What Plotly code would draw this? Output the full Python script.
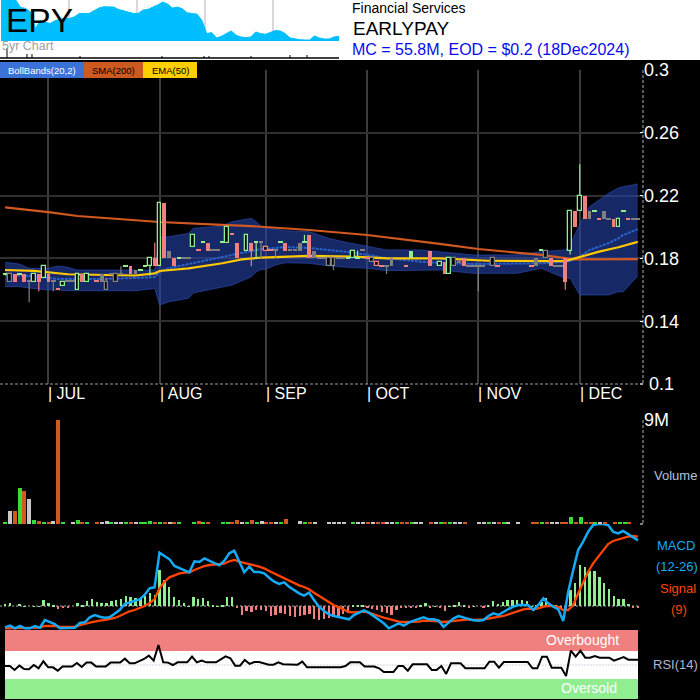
import plotly.graph_objects as go

# ---------- data ----------
months = ["JUL", "AUG", "SEP", "OCT", "NOV", "DEC"]
month_start_day = [9, 32, 54, 75, 98, 119]
price_ticks = [0.14, 0.18, 0.22, 0.26, 0.3]
price_tick_text = ["0.14", "0.18", "0.22", "0.26", "0.3"]

# style: G hollow green, P pink, K hollow grey, S solid grey, N solid green, R hollow pink,
# g/p/s = doji dash, '.' = no candle
candle_style = list(
    "gKPgPsGPGP" "spGssGPG.p" "SKsKsgPSgg" "GPGPSPgssG"
    "pgPssgGpP." "GPgsRpsgPs" "sSgPSssKKs" "sgGgspKRps"
    "S..pN...P." "GPGKsPssss" ".Kp......p" "SgKPssPGPG"
    "PSgpSsPGgp" "ss"
)
candle_top = [
    .17, .17, .17, .17, .17, .165, .17, .17, .175, .17,
    .165, .16, .165, .165, .165, .17, .17, .17, None, .165,
    .17, .165, .17, .17, .17, .175, .175, .1725, .1725, .175,
    .18, .18, .215, .215, .185, .18, .18, .18, .18, .195,
    .185, .19, .19, .185, .185, .19, .2, .195, .19, None,
    .195, .19, .19, .19, .1875, .185, .185, .19, .19, .185,
    .185, .19, .19, .195, .185, .18, .18, .18, .18, .18,
    .18, .18, .185, .18, .185, .18, .18, .1775, .175, .175,
    .18, None, None, .175, .185, None, None, None, .185, None,
    .1775, .1775, .18, .18, .1775, .18, .175, .175, .175, .175,
    None, .18, .175, None, None, None, None, None, None, .175,
    .18, .185, .185, .18, .175, .175, .18, .21, .21, .22,
    .22, .21, .21, .205, .21, .205, .205, .205, .21, .205,
    .205, .205,
]
candle_bot = [
    .17, .165, .165, .17, .165, .165, .165, .165, .1675, .165,
    .165, .16, .1625, .165, .165, .16, .165, .165, None, .165,
    .165, .16, .17, .165, .17, .175, .17, .17, .1725, .175,
    .175, .175, .175, .18, .18, .175, .18, .18, .18, .1875,
    .185, .19, .185, .185, .185, .19, .19, .195, .18, None,
    .185, .185, .19, .19, .185, .185, .185, .19, .185, .185,
    .185, .185, .19, .18, .18, .18, .18, .175, .175, .18,
    .18, .18, .18, .18, .185, .18, .1775, .175, .175, .175,
    .175, None, None, .175, .18, None, None, None, .175, None,
    .175, .17, .17, .175, .1775, .175, .175, .175, .175, .175,
    None, .175, .175, None, None, None, None, None, None, .175,
    .175, .185, .18, .175, .175, .175, .165, .185, .2, .21,
    .205, .205, .21, .205, .205, .205, .2, .2, .21, .205,
    .205, .205,
]
wick_day = [5, 7, 10, 21, 24, 30, 31, 51, 52, 53, 56, 62, 68, 73, 79, 98, 116, 117, 119]
wick_high = [.165, .17, .165, .1675, .175, .18, .19, .19, .19, .19, .185, .195, .175, .185, .175, .175, .165, .185, .24]
wick_low = [.152, .159, .159, .165, .17, .169, .18, .175, .18, .18, .18, .19, .1725, .18, .17, .159, .16, .1825, .22]

band_day = [0, 3, 5, 9, 11, 13, 15, 20, 27, 31, 32, 34, 38, 39, 45, 47, 51, 52, 53, 54, 56, 58, 63,
            67, 71, 75, 79, 86, 90, 97, 106, 111, 116, 117, 119, 121, 123, 125, 127, 128, 131]
band_upper = [.1775, .1764, .1737, .1737, .1752, .1743, .1726, .1726, .1726, .1726, .1936, .1938, .1960, .1992,
              .2006, .2034, .2055, .2034, .2006, .1992, .1987, .1976, .1970, .1928, .1900, .1879, .1854, .1854,
              .1843, .1822, .1822, .1843, .1854, .1885, .2019, .2129, .2172, .2215, .2248, .2257, .2274]
band_lower = [.1620, .1620, .1611, .1599, .1599, .1594, .1594, .1594, .1594, .1609, .1503, .1524, .1546, .1580,
              .1620, .1630, .1683, .1713, .1730, .1730, .1758, .1772, .1769, .1752, .1743, .1737, .1722, .1726,
              .1726, .1705, .1705, .1737, .1673, .1673, .1567, .1567, .1567, .1567, .1588, .1588, .1688]
band_mid = [.1694, .1688, .1688, .1675, .1669, .1669, .1669, .1669, .1675, .1681, .1713, .1739, .1764, .1771,
            .1809, .1822, .1847, .1854, .1860, .1860, .1866, .1873, .1866, .1854, .1841, .1822, .1802, .1779,
            .1771, .1764, .1769, .1769, .1779, .1783, .1809, .1854, .1875, .1898, .1928, .1949, .1986]

sma_day = [0, 9, 15, 32, 45, 51, 63, 75, 90, 98, 111, 118, 131]
sma_200 = [.2125, .2095, .2070, .2032, .2013, .2006, .1981, .1949, .1892, .1860, .1822, .1794, .1796]
ema_day = [0, 6, 13, 20, 27, 31, 32, 38, 45, 49, 53, 63, 72, 79, 90, 100, 111, 116, 118, 123, 127, 131]
ema_50 = [.1726, .172, .1699, .1695, .1691, .1705, .172, .1737, .1769, .1794, .1805, .1816, .1811, .18,
          .18, .1785, .1785, .1783, .18, .1843, .1871, .1905]

volume_m = [
    .09, 1.125, 1.125, 3.1, 2.86, 2.16, .35, .26, .09, .09,
    .26, 9.05, .09, 0, .09, .35, .17, .09, 0, .09,
    .09, .26, .09, .09, .09, .09, .09, .09, .09, .09,
    .26, .17, .09, .17, .09, .09, .09, 0, 0, .09,
    .26, .09, .09, 0, 0, .09, .09, .09, .35, .09,
    .09, .35, .09, .26, .09, .09, .09, .09, .43, 0,
    0, .26, .09, .09, .09, 0, 0, .09, .09, .09,
    .09, 0, .09, .17, .09, .09, .09, .09, .17, .09,
    .09, .17, .09, .09, .09, .09, .09, 0, .17, .09,
    .09, .09, .09, .09, .09, .09, 0, 0, .17, .09,
    .09, .17, .09, .09, .09, 0, .09, 0, 0, .09,
    .09, .09, .09, .09, .09, .09, .09, .58, .09, .58,
    .09, .09, .09, .09, .09, 0, .09, .09, .09, .09,
]
volume_dir = list(
    "gkogokgogo" "kogxkgogxo" "kkgkkgokgg" "gogokogxxg"
    "ogoxxggook" "gogkookgox" "xkgokxxkkk" "kxgkkokook"
    "kgoogkkxok" "gogkkoxxkk" "gkogkxkxxo" "ogokkoogog"
    "oogkoxoggo"
)

macd_line = [
    -63, -58, -66, -59, -66, -66, -59, -64, -41, -47, -53, -66, -66, -66, -64, -50, -48, -33, -26, -31,
    -34, -33, -21, -11, 7, 12, 16, 21, 34, 54, 57, 161, 151, 141, 121, 114, 109, 102, 135, 133,
    144, 137, 129, 123, 137, 159, 167, 134, 102, 119, 103, 103, 99, 86, 74, 67, 72, 59, 49, 39,
    32, 41, 19, -1, -14, -24, -29, -33, -37, -39, -26, -18, -12, -19, -29, -41, -51, -66, -59, -51,
    -58, -49, -43, -39, -33, -39, -39, -43, -62, -49, -36, -29, -33, -39, -42, -43, -41, -29, -21, -26,
    -16, -8, -1, 4, 4, 3, -11, 4, 24, 9, -1, -9, -44, 44, 109, 169, 194, 224, 244, 247,
    247, 244, 224, 219, 226, 217, 207, 198,
]
signal_line = [
    -66, -66, -66, -66, -65, -65, -64, -64, -59, -58, -59, -61, -62, -62, -61, -58, -53, -49, -45, -43,
    -41, -39, -35, -29, -21, -15, -11, -6, 1, 9, 22, 54, 74, 87, 94, 99, 101, 102, 109, 115,
    121, 124, 125, 126, 128, 135, 139, 134, 131, 127, 123, 119, 114, 106, 99, 92, 85, 77, 69, 63,
    58, 51, 41, 31, 21, 11, 3, -3, -11, -17, -18, -16, -16, -19, -23, -29, -34, -38, -43, -46,
    -47, -47, -47, -46, -43, -43, -43, -45, -47, -45, -43, -41, -39, -39, -41, -41, -39, -37, -35, -33,
    -29, -24, -19, -14, -9, -7, -9, -6, -1, 1, 1, -3, -11, -11, 4, 39, 74, 104, 129, 149,
    169, 187, 196, 201, 205, 209, 211, 209,
]
macd_hist = [
    7, 10, 0, 6, 1, 0, 1, 1, 19, 11, 4, -9, -5, -3, 0, 9, 5, 17, 22, 12,
    9, 11, 16, 20, 22, 31, 29, 24, 24, 32, 40, 34, 109, 79, 58, 29, 19, 9, 1, 28,
    23, 24, 16, 5, 1, 3, 28, 28, -3, -26, -14, -16, -11, -11, -15, -28, -25, -21, -23, -29,
    -31, -29, -26, -23, -39, -41, -39, -36, -33, -29, -23, -21, 4, 5, 3, -3, -8, -11, -18, -21,
    -26, -11, -5, -5, -4, -3, 4, 9, -3, 1, -3, -14, 1, 4, 12, 5, -3, 1, 0, -3,
    4, 16, 7, 13, 19, 19, 19, 19, 15, 1, 5, 14, 24, 6, 4, -3, -9, 49, 71, 124,
    119, 107, 107, 89, 71, 53, 31, 21, 22, 7, -3, -3,
]
rsi_14 = [
    48.6, 48.6, 42.9, 49.1, 44.3, 43.8, 50, 45.3, 55.3, 46.7, 46.7, 41.9, 47.7, 47.7, 47.7, 52.9, 47.2, 53.4, 53.4, 47.7,
    47.7, 47.7, 53.4, 53.4, 53.4, 59, 52.4, 52.4, 55.7, 58.6, 63.4, 56.2, 78.6, 53.8, 53.4, 50, 53.8, 53.8, 53.8, 61.9,
    53.8, 56.2, 53.8, 53.8, 53.8, 58.1, 62.4, 59.6, 49.1, 49.1, 57.2, 51.5, 54.3, 54.3, 52.4, 50.5, 50.5, 53.8, 51, 50.5,
    50.5, 50.5, 54.8, 46.7, 46.7, 46.7, 46.7, 46.7, 46.7, 46.7, 46.7, 48.6,
    53.8, 53.8, 53.8, 47.7, 47.7, 47.7, 45.3, 40, 40, 40, 48.6, 48.6, 41.9, 51, 51, 51, 51, 42.9, 42.9, 48.6, 37.2, 52.4,
    52.4, 52.4, 45.3, 45.3, 45.3, 45.3, 45.3, 54.8, 54.8, 46.2, 54.3, 54.3, 54.3, 54.3, 54.3, 54.3, 45.3, 45.3, 61.9, 61.9,
    46.2, 46.2, 46.2, 34.3, 70.5, 61.9, 70.5, 60.5, 60.5, 62.9, 60.5, 60.5, 60.5, 56.2, 59, 61.4, 57.6, 57.6, 57.6,
]
history_close = [
    122, 122, 122, 122, 100, 97, 87, 37, 60, 57, 52, 60, 65, 67, 67, 72, 82, 82, 82, 90,
    98, 102, 102, 101, 94, 89, 86, 82, 82, 92, 94, 101, 107, 116, 110, 98, 101, 96, 84, 82,
    80, 62, 22, 25, 9, 14, 22, 30, 17, 12, 10, 12, 27, 22, 20, 25, 31, 30, 22, 9,
    6, 4, 3, 3, 15, 9, 6, 6, 12, 14,
]
history_years = [69, 137, 205, 273]

# ---------- page geometry helpers ----------
W = 700.0
def fx(p): return p / W
def fy(p): return 1 - p / W
def dom(top, bottom): return [fy(bottom), fy(top)]

AXIS_END = 643
DAY = 4.83
day_x = lambda d: 5 + DAY * d
VOL_DAY = 4.84
MACD_STEP = 633 / (len(macd_line) - 1)
HIST_STEP = 633 / (len(macd_hist) - 1)
RSI_STEP = 633 / (len(rsi_14) - 1)
HIST_STRIP_STEP = 338 / (len(history_close) - 1)

GREEN, PINK, GREY = "#90ee90", "#f08080", "#808080"
fig = go.Figure()

# ---------- main panel ----------
fig.add_trace(go.Scatter(x=[day_x(d) for d in band_day], y=band_lower, mode="lines",
                         line=dict(color="rgba(45,80,190,0.6)", width=1), xaxis="x", yaxis="y"))
fig.add_trace(go.Scatter(x=[day_x(d) for d in band_day], y=band_upper, mode="lines", fill="tonexty",
                         fillcolor="rgba(38,66,170,0.6)",
                         line=dict(color="rgba(45,80,190,0.6)", width=1), xaxis="x", yaxis="y"))
fig.add_trace(go.Scatter(x=[day_x(d) for d in band_day], y=band_mid, mode="lines",
                         line=dict(color="#2a62c8", width=2, dash="3px,1px"), xaxis="x", yaxis="y"))
fig.add_trace(go.Scatter(x=[day_x(d) for d in sma_day], y=sma_200, mode="lines",
                         line=dict(color="#d2591f", width=2.2), xaxis="x", yaxis="y"))
fig.add_trace(go.Scatter(x=[day_x(d) for d in ema_day], y=ema_50, mode="lines",
                         line=dict(color="#ffc800", width=2.2), xaxis="x", yaxis="y"))

# candles live on an overlaid price axis so they paint above the band and the averages
for col, kinds in ((GREEN, "GgN"), (PINK, "PpR"), (GREY, "KsS")):
    xs, ys = [], []
    for d, hi, lo in zip(wick_day, wick_high, wick_low):
        if candle_style[d] in kinds:
            xs += [day_x(d), day_x(d), None]
            ys += [hi, lo, None]
    fig.add_trace(go.Scatter(x=xs, y=ys, mode="lines", line=dict(color=col, width=1.2), xaxis="x", yaxis="y6"))

styles = {
    "G": ("black", GREEN, 1.3), "K": ("black", GREY, 1.3), "R": ("black", PINK, 1.3),
    "P": (PINK, PINK, 0), "S": (GREY, GREY, 0), "N": (GREEN, GREEN, 0),
    "g": (GREEN, GREEN, 0), "p": (PINK, PINK, 0), "s": (GREY, GREY, 0),
}
for key, (fill, edge, lw) in styles.items():
    days = [d for d, s in enumerate(candle_style) if s == key and candle_top[d] is not None]
    if not days:
        continue
    heights = [max(candle_top[d] - candle_bot[d], 0.0008) for d in days]
    fig.add_trace(go.Bar(x=[day_x(d) for d in days], y=heights, base=[candle_bot[d] for d in days],
                         width=3.8 if key in "GKRPSN" else 4.6,
                         marker=dict(color=fill, opacity=1, line=dict(color=edge, width=lw)),
                         xaxis="x", yaxis="y7"))

# ---------- volume ----------
vol_colors = {"g": "#38dc38", "o": "#d2591f", "k": "#c8c8c8", "x": "#000000"}
fig.add_trace(go.Bar(x=[5 + VOL_DAY * i for i in range(len(volume_m))], y=volume_m, width=4,
                     marker=dict(color=[vol_colors[c] for c in volume_dir], opacity=1, line=dict(width=0)),
                     xaxis="x2", yaxis="y2"))

# ---------- MACD ----------
fig.add_trace(go.Bar(x=[5 + HIST_STEP * i for i in range(len(macd_hist))], y=macd_hist, width=2.4,
                     marker=dict(color=[GREEN if v >= 0 else PINK for v in macd_hist], opacity=1, line=dict(width=0)),
                     xaxis="x3", yaxis="y3"))
fig.add_trace(go.Scatter(x=[5 + MACD_STEP * i for i in range(len(signal_line))], y=signal_line, mode="lines",
                         line=dict(color="#ff4500", width=2.3), xaxis="x3", yaxis="y3"))
fig.add_trace(go.Scatter(x=[5 + MACD_STEP * i for i in range(len(macd_line))], y=macd_line, mode="lines",
                         line=dict(color="#14aaf5", width=2.5), xaxis="x3", yaxis="y3"))

# ---------- RSI ----------
fig.add_trace(go.Scatter(x=[5 + RSI_STEP * i for i in range(len(rsi_14))], y=rsi_14, mode="lines",
                         line=dict(color="#000000", width=2), xaxis="x4", yaxis="y4"))

# ---------- five-year strip ----------
fig.add_trace(go.Scatter(x=[1 + HIST_STRIP_STEP * i for i in range(len(history_close))], y=history_close, mode="lines",
                         fill="tozeroy", fillcolor="#00bfff", line=dict(color="#00bfff", width=1),
                         xaxis="x5", yaxis="y5"))

# ---------- shapes ----------
shapes = [
    dict(type="rect", xref="paper", yref="paper", x0=0, x1=1, y0=fy(60), y1=1,
         fillcolor="white", line_width=0, layer="below"),
]
def rect(x0, x1, top, bot, color, layer="above"):
    shapes.append(dict(type="rect", xref="paper", yref="paper", x0=fx(x0), x1=fx(x1), y0=fy(bot), y1=fy(top),
                       fillcolor=color, line_width=0, layer=layer))
def seg(x0, y0, x1, y1, color, width=1, dash="solid", layer="above"):
    shapes.append(dict(type="line", xref="paper", yref="paper", x0=fx(x0), x1=fx(x1), y0=fy(y0), y1=fy(y1),
                       line=dict(color=color, width=width, dash=dash), layer=layer))

rect(0, 84, 62, 78, "#3a72d8")
rect(84, 143, 62, 78, "#cd5a20")
rect(143, 197, 62, 78, "#ffd000")
rect(5, 638, 630, 651, PINK, "below")
rect(5, 638, 651, 679, "white", "below")
rect(5, 638, 679, 699, GREEN, "below")
seg(5, 665, 638, 665, "#d8d0e0", 1, "2px,1px", "below")

seg(AXIS_END, 70, AXIS_END, 384, "#b0b0b0", 1, "3px,2px")
seg(AXIS_END, 420, AXIS_END, 524, "#b0b0b0", 1, "3px,2px")
seg(0, 384, AXIS_END, 384, "#9a9a9a", 1, "3px,2px")
seg(AXIS_END - 3, 524, AXIS_END, 524, "white", 1)
seg(AXIS_END - 3, 384, AXIS_END, 384, "white", 1)
seg(0, 606, AXIS_END - 3, 606, "#b0b0b0", 1, "2px,2px", "below")
seg(0, 58, 339, 58, "black", 1.6)
for px, top in ((7, 48), (27, 54), (32, 54), (80, 56), (162, 56), (204, 56), (209, 56), (251, 56), (290, 55), (307, 55)):
    seg(px, top, px, 58, "black", 1)

# ---------- text ----------
def label(x, y, text, size, color, anchor="left", family="Liberation Sans"):
    return dict(xref="paper", yref="paper", x=fx(x), y=fy(y), text=text, showarrow=False,
                xanchor=anchor, yanchor="middle", font=dict(family=family, size=size, color=color),
                borderpad=0, borderwidth=0)

annotations = [
    label(6, 20, "EPY", 33.5, "black"),
    label(2, 46, "5yr Chart", 12.5, "#a0a0a0"),
    label(352, 8, "Financial Services", 14, "black"),
    label(353, 28, "EARLYPAY", 19, "black"),
    label(352, 49, "MC = 55.8M, EOD = $0.2 (18Dec2024)", 16, "#0a0aee"),
    label(42, 70.5, "BollBands(20,2)", 9.5, "white", "center"),
    label(113.5, 70.5, "SMA(200)", 9.5, "black", "center"),
    label(170, 70.5, "EMA(50)", 9.5, "black", "center"),
    label(675, 475, "Volume", 13, "#b0c4de", "center"),
    label(676, 545, "MACD", 13, "#14aaf5", "center"),
    label(677, 566, "(12-26)", 13, "#14aaf5", "center"),
    label(678, 588, "Signal", 13, "#ff4500", "center"),
    label(679, 609, "(9)", 13, "#ff4500", "center"),
    label(582, 640, "Overbought", 14, "white", "center"),
    label(589, 688, "Oversold", 14, "white", "center"),
    label(675, 664, "RSI(14)", 13, "#b0b8d0", "center"),
    label(649, 384, "0.1", 18, "white"),
]
for name, d in zip(months, month_start_day):
    annotations.append(label(day_x(d), 393, "| " + name, 16, "white"))

plain_x = dict(domain=[0, fx(AXIS_END)], range=[0, AXIS_END], visible=False, fixedrange=True)

fig.update_layout(
    width=700, height=700, autosize=False,
    margin=dict(l=0, r=0, t=0, b=0, pad=0, autoexpand=False),
    paper_bgcolor="black", plot_bgcolor="rgba(0,0,0,0)",
    showlegend=False, barmode="overlay", bargap=0,
    shapes=shapes, annotations=annotations,
    xaxis=dict(domain=[0, fx(AXIS_END)], range=[0, AXIS_END], anchor="y",
               tickvals=[day_x(d) for d in month_start_day], ticks="", showticklabels=False,
               showgrid=True, gridcolor="#3c3c3c", gridwidth=2, zeroline=False, showline=False),
    yaxis=dict(domain=dom(70, 384), range=[0.1, 0.3], anchor="x", side="right",
               tickvals=price_ticks, ticktext=price_tick_text, ticks="inside", ticklen=3, tickcolor="white",
               tickfont=dict(family="Liberation Sans", size=18, color="white"),
               showgrid=True, gridcolor="#303030", gridwidth=2, zeroline=False, showline=False),
    yaxis6=dict(overlaying="y", range=[0.1, 0.3], anchor="x", visible=False),
    yaxis7=dict(overlaying="y", range=[0.1, 0.3], anchor="x", visible=False),
    xaxis2=dict(plain_x, anchor="y2"),
    yaxis2=dict(domain=dom(420, 524), range=[0, 9], anchor="x2", side="right",
                tickvals=[9], ticktext=["9M"], ticks="inside", ticklen=3, tickcolor="white",
                tickfont=dict(family="Liberation Sans", size=18, color="white"),
                showgrid=False, zeroline=False, showline=False),
    xaxis3=dict(plain_x, anchor="y3"),
    yaxis3=dict(domain=dom(524, 630), range=[-71, 247], anchor="x3", visible=False),
    xaxis4=dict(plain_x, anchor="y4"),
    yaxis4=dict(domain=dom(630, 700), range=[0, 100], anchor="x4", visible=False),
    xaxis5=dict(domain=[0, fx(339)], range=[0, 339], anchor="y5", tickvals=history_years, ticks="",
                showticklabels=False, showgrid=True, gridcolor="#dcd6e0", gridwidth=2, zeroline=False),
    yaxis5=dict(domain=dom(0, 41), range=[0, 122], anchor="x5", visible=False),
)

fig.write_html("out.html", config={"displayModeBar": False},
               post_script="document.body.style.margin='0';document.documentElement.style.overflow='hidden';document.body.style.background='black';")
